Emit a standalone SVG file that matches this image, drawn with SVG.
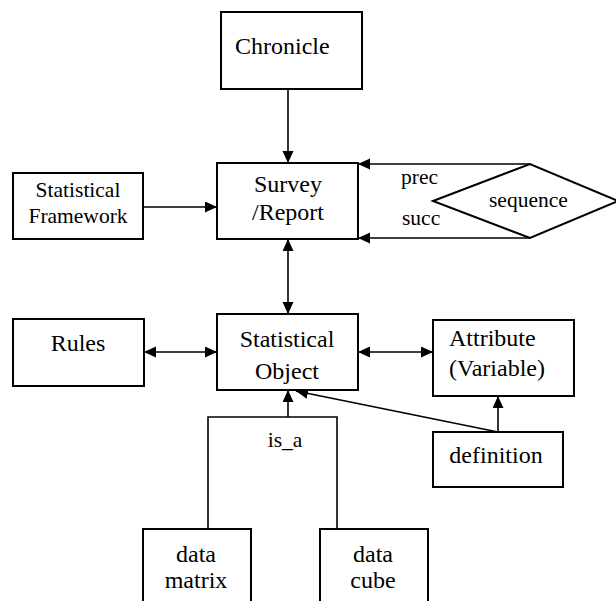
<svg xmlns="http://www.w3.org/2000/svg" width="616" height="601" viewBox="0 0 616 601">
<style>
.box{fill:#fff;stroke:#000;stroke-width:2}
.t{font-family:"Liberation Serif","Times New Roman",serif;font-size:24px;fill:#000}
.s{font-size:21.5px}
.c{text-anchor:middle}
.ln{fill:none;stroke:#000;stroke-width:1.6}
</style>
<defs>
<marker id="ah" markerUnits="userSpaceOnUse" markerWidth="13" markerHeight="12" refX="12" refY="5.5" orient="auto-start-reverse">
<path d="M0,0 L12,5.5 L0,11 z" fill="#000"/>
</marker>
</defs>
<rect x="0" y="0" width="616" height="601" fill="#fff"/>
<g id="connectors">
<path class="ln" d="M288,89 L288,163" marker-end="url(#ah)"/>
<path class="ln" d="M143,207 L217,207" marker-end="url(#ah)"/>
<path class="ln" d="M288,239 L288,314" marker-start="url(#ah)" marker-end="url(#ah)"/>
<path class="ln" d="M144,352 L217,352" marker-start="url(#ah)" marker-end="url(#ah)"/>
<path class="ln" d="M358,352 L433,352" marker-start="url(#ah)" marker-end="url(#ah)"/>
<path class="ln" d="M530,164 L358,164" marker-end="url(#ah)"/>
<path class="ln" d="M530,238 L358,238" marker-end="url(#ah)"/>
<path class="ln" d="M208,529 L208,417 L337,417 L337,529"/>
<path class="ln" d="M288,417 L288,390" marker-end="url(#ah)"/>
<path class="ln" d="M498,432 L498,396" marker-end="url(#ah)"/>
<path class="ln" d="M498,432 L296,391" marker-end="url(#ah)"/>
<text class="t s c" x="285" y="447">is_a</text>
<text class="t s" x="401" y="184">prec</text>
<text class="t s" x="402" y="225">succ</text>
</g>
<g id="chronicle">
<rect class="box" x="221" y="12" width="141" height="77"/>
<text class="t" x="235" y="54">Chronicle</text>
</g>
<g id="survey">
<rect class="box" x="217" y="163" width="141" height="76"/>
<text class="t c" x="288" y="192">Survey</text>
<text class="t c" x="288" y="220">/Report</text>
</g>
<g id="framework">
<rect class="box" x="13" y="173" width="130" height="66"/>
<text class="t s c" x="78" y="197">Statistical</text>
<text class="t s c" x="78" y="223">Framework</text>
</g>
<g id="sequence">
<polygon class="box" points="433,201 530,164 618,201 530,238"/>
<text class="t s" x="489" y="207">sequence</text>
</g>
<g id="rules">
<rect class="box" x="13" y="319" width="131" height="67"/>
<text class="t c" x="78" y="351">Rules</text>
</g>
<g id="statobj">
<rect class="box" x="217" y="314" width="141" height="76"/>
<text class="t c" x="287" y="347">Statistical</text>
<text class="t c" x="287" y="379">Object</text>
</g>
<g id="attribute">
<rect class="box" x="433" y="320" width="141" height="76"/>
<text class="t" x="449" y="346">Attribute</text>
<text class="t" x="449" y="376">(Variable)</text>
</g>
<g id="definition">
<rect class="box" x="433" y="432" width="130" height="55"/>
<text class="t c" x="496" y="463">definition</text>
</g>
<g id="datamatrix">
<rect class="box" x="143" y="529" width="108" height="80"/>
<text class="t c" x="196" y="562">data</text>
<text class="t c" x="196" y="588">matrix</text>
</g>
<g id="datacube">
<rect class="box" x="320" y="529" width="108" height="80"/>
<text class="t c" x="373" y="562">data</text>
<text class="t c" x="373" y="588">cube</text>
</g>
</svg>
